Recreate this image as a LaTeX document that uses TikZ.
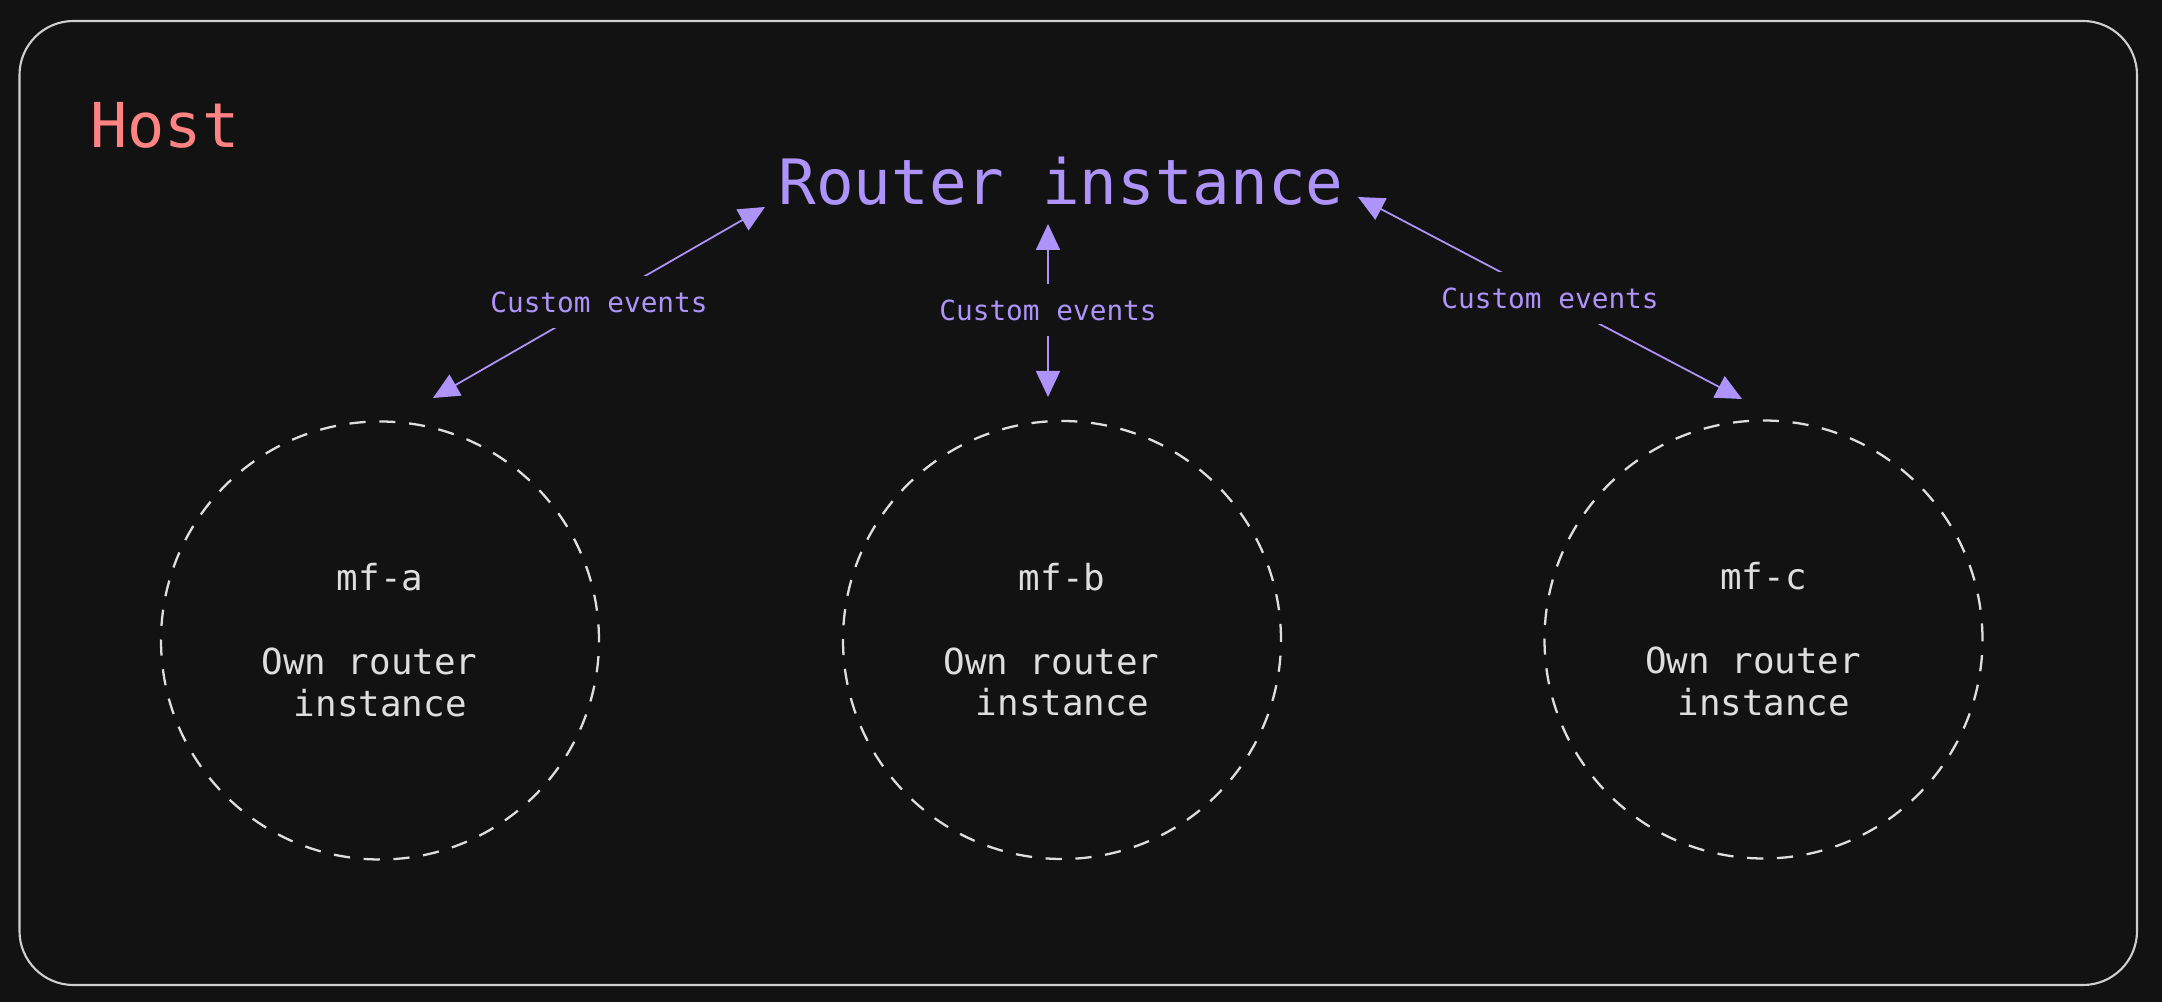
\documentclass[tikz,border=0pt]{standalone}
\usepackage{fontspec}
\newfontfamily\codefont{DejaVu Sans Mono}
\usetikzlibrary{arrows.meta}

\definecolor{bgdark}{HTML}{121212}
\definecolor{hostred}{HTML}{FF8383}
\definecolor{evtpurple}{HTML}{AE94FA}
\definecolor{mfgray}{HTML}{DEDEDE}
\definecolor{framegray}{HTML}{CFCFCF}

\begin{document}
\begin{tikzpicture}[
  evt/.style={>={Triangle[length=0.26cm,width=0.24cm]}, <->, evtpurple, line width=0.5pt},
  evtlabel/.style={fill=bgdark, text=evtpurple, font=\codefont\fontsize{7.9}{9.5}\selectfont,
    inner xsep=2pt, inner ysep=0pt, minimum height=0.52cm},
  mfcircle/.style={circle, draw=mfgray, dash pattern=on 4.6pt off 3.9pt, line width=0.65pt,
    minimum size=4.38cm, inner sep=0pt},
  mfname/.style={anchor=base, text=mfgray, font=\codefont\fontsize{10.2}{12}\selectfont},
  mfdesc/.style={align=center, inner sep=0pt, text=mfgray, font=\codefont\fontsize{10.2}{11.7}\selectfont}
]

  % Background and host frame
  \fill[bgdark] (0,0) rectangle (21.62,10.02);
  \useasboundingbox (0,0) rectangle (21.62,10.02);
  \draw[framegray, line width=0.6pt, rounded corners=0.54cm] (0.195,0.17) rectangle (21.37,9.81);
  \node[anchor=base west, text=hostred, font=\codefont\fontsize{17.6}{20}\selectfont] (host) at (0.78,8.54) {Host};

  % Shared router
  \node[anchor=base, text=evtpurple, font=\codefont\fontsize{17.8}{21}\selectfont] (router) at (10.61,7.97) {Router instance};

  % Micro frontend a
  \node[mfcircle] (mfa) at (3.80,3.615) {};
  \node[mfname] (mfa-name) at ([yshift=0.495cm]mfa.center) {mf-a};
  \node[mfdesc] (mfa-desc) at ([xshift=-0.105cm, yshift=-0.42cm]mfa.center) {Own router\\\phantom{x}instance};

  % Micro frontend b
  \node[mfcircle] (mfb) at (10.62,3.62) {};
  \node[mfname] (mfb-name) at ([yshift=0.495cm]mfb.center) {mf-b};
  \node[mfdesc] (mfb-desc) at ([xshift=-0.105cm, yshift=-0.42cm]mfb.center) {Own router\\\phantom{x}instance};

  % Micro frontend c
  \node[mfcircle] (mfc) at (17.635,3.625) {};
  \node[mfname] (mfc-name) at ([yshift=0.495cm]mfc.center) {mf-c};
  \node[mfdesc] (mfc-desc) at ([xshift=-0.105cm, yshift=-0.42cm]mfc.center) {Own router\\\phantom{x}instance};

  % Custom events between router and each mf
  \coordinate (a-top) at (7.65,7.95);
  \coordinate (a-bot) at (4.33,6.04);
  \draw[evt] (a-bot) -- node[evtlabel] (a-evt) {Custom events} (a-top);

  \coordinate (b-top) at (10.48,7.78);
  \coordinate (b-bot) at (10.48,6.05);
  \draw[evt] (b-bot) -- node[evtlabel] (b-evt) {Custom events} (b-top);

  \coordinate (c-top) at (13.58,8.05);
  \coordinate (c-bot) at (17.42,6.03);
  \draw[evt] (c-bot) -- node[evtlabel] (c-evt) {Custom events} (c-top);

\end{tikzpicture}
\end{document}
